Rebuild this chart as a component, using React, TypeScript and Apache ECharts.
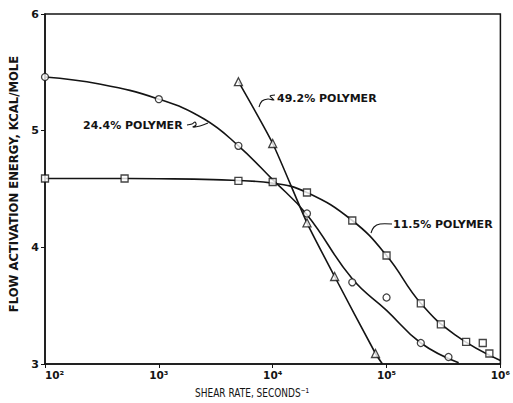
import React, { useEffect, useRef } from "react";
import * as echarts from "echarts";

// ---- data ----
const xTickPowers = [2, 3, 4, 5, 6];
const yTicks = [3, 4, 5, 6];

// 11.5% polymer (squares)
const sqX = [100, 500, 5000, 10000, 20000, 50000, 100000, 200000, 300000, 500000, 700000, 800000];
const sqY = [4.59, 4.59, 4.57, 4.56, 4.47, 4.23, 3.93, 3.52, 3.34, 3.19, 3.18, 3.09];
const sqCurveX = [100, 300, 1000, 3000, 10000, 20000, 50000, 100000, 200000, 400000, 1000000];
const sqCurveY = [4.59, 4.59, 4.588, 4.58, 4.55, 4.47, 4.23, 3.93, 3.52, 3.25, 3.03];

// 24.4% polymer (circles)
const ciX = [100, 1000, 5000, 20000, 50000, 100000, 200000, 350000];
const ciY = [5.46, 5.27, 4.87, 4.29, 3.7, 3.57, 3.18, 3.06];
const ciCurveX = [100, 300, 1000, 2500, 5000, 10000, 20000, 50000, 100000, 200000, 430000];
const ciCurveY = [5.46, 5.4, 5.27, 5.1, 4.87, 4.58, 4.28, 3.73, 3.46, 3.18, 3.01];

// 49.2% polymer (triangles)
const trX = [5000, 10000, 20000, 35000, 80000];
const trY = [5.42, 4.89, 4.21, 3.75, 3.09];
const trCurveX = [5000, 10000, 20000, 35000, 80000, 92000];
const trCurveY = [5.42, 4.89, 4.21, 3.75, 3.09, 3.0];

const seriesLabels = ["24.4% POLYMER", "49.2% POLYMER", "11.5% POLYMER"];
const xTitle = "SHEAR RATE, SECONDS⁻¹";
const yTitle = "FLOW ACTIVATION ENERGY, KCAL/MOLE";

const sup: Record<string, string> = { "0": "⁰", "1": "¹", "2": "²", "3": "³", "4": "⁴", "5": "⁵", "6": "⁶", "7": "⁷", "8": "⁸", "9": "⁹" };

const zip = (xs: number[], ys: number[]) => xs.map((x, i) => [x, ys[i]]);

const INK = "#141414";
const FONT = "'DejaVu Sans', sans-serif";

export default function App() {
  const ref = useRef<HTMLDivElement>(null);
  useEffect(() => {
    document.body.style.margin = "0";
    if (!ref.current) return;
    const chart = echarts.init(ref.current, null, { renderer: "svg" });
    const lineCommon = {
      type: "line" as const,
      showSymbol: false,
      smooth: 0.45,
      lineStyle: { color: INK, width: 1.6 },
      z: 2,
      silent: true,
    };
    const markCommon = {
      type: "scatter" as const,
      itemStyle: { color: "#fff", borderColor: INK, borderWidth: 1.3 },
      z: 5,
      silent: true,
    };
    chart.setOption({
      animation: false,
      backgroundColor: "#fff",
      grid: { left: 45, right: 8, top: 14, bottom: 39, show: true, borderColor: INK, borderWidth: 1.5 },
      xAxis: {
        type: "log",
        logBase: 10,
        min: 100,
        max: 1000000,
        axisLine: { show: true, lineStyle: { color: INK, width: 1.5 } },
        axisTick: { show: true, inside: false, length: 4, lineStyle: { color: INK } },
        minorTick: { show: false },
        splitLine: { show: false },
        axisLabel: {
          color: INK,
          fontFamily: FONT,
          fontSize: 10.5,
          fontWeight: "bold",
          margin: 5,
          alignMinLabel: "left",
          formatter: (v: number) => {
            const p = Math.round(Math.log10(v));
            if (!xTickPowers.includes(p)) return "";
            return "10" + String(p).split("").map((c) => sup[c]).join("");
          },
        },
      },
      yAxis: {
        type: "value",
        min: yTicks[0],
        max: yTicks[yTicks.length - 1],
        interval: 1,
        axisLine: { show: true, lineStyle: { color: INK, width: 1.5 } },
        axisTick: { show: true, inside: false, length: 4, lineStyle: { color: INK } },
        splitLine: { show: false },
        axisLabel: { color: INK, fontFamily: FONT, fontSize: 11, fontWeight: "bold", margin: 6 },
      },
      series: [
        { ...lineCommon, name: "c11", data: zip(sqCurveX, sqCurveY) },
        { ...lineCommon, name: "c24", data: zip(ciCurveX, ciCurveY) },
        { ...lineCommon, name: "c49", data: zip(trCurveX, trCurveY), smooth: 0.2 },
        { ...markCommon, name: "s11", symbol: "rect", symbolSize: 7, data: zip(sqX, sqY) },
        { ...markCommon, name: "s24", symbol: "circle", symbolSize: 7, data: zip(ciX, ciY) },
        { ...markCommon, name: "s49", symbol: "triangle", symbolSize: 8, data: zip(trX, trY) },
      ],
      graphic: [
        {
          type: "text",
          x: 14,
          y: 184,
          rotation: Math.PI / 2,
          style: { text: yTitle, fill: INK, font: `bold 11.6px ${FONT}`, align: "center", verticalAlign: "middle" },
        },
        {
          type: "text",
          x: 195,
          y: 392,
          scaleX: 0.75,
          style: { text: xTitle, fill: INK, font: `12px ${FONT}`, align: "left", verticalAlign: "middle" },
        },
        {
          type: "text",
          x: 83,
          y: 125,
          style: { text: seriesLabels[0], fill: INK, font: `bold 11px ${FONT}`, align: "left", verticalAlign: "middle" },
        },
        {
          type: "polyline",
          shape: { points: [[187, 125], [192, 124], [195, 122], [196, 125], [193, 127], [200, 126], [208, 123]], smooth: 0.4 },
          style: { stroke: INK, lineWidth: 1.1, fill: "none" },
        },
        {
          type: "text",
          x: 277,
          y: 98,
          style: { text: seriesLabels[1], fill: INK, font: `bold 11px ${FONT}`, align: "left", verticalAlign: "middle" },
        },
        {
          type: "polyline",
          shape: { points: [[259, 107], [262, 101], [268, 99], [274, 100], [270, 96], [275, 95]], smooth: 0.3 },
          style: { stroke: INK, lineWidth: 1.1, fill: "none" },
        },
        {
          type: "text",
          x: 393,
          y: 224,
          style: { text: seriesLabels[2], fill: INK, font: `bold 11px ${FONT}`, align: "left", verticalAlign: "middle" },
        },
        {
          type: "polyline",
          shape: { points: [[371, 233], [374, 227], [380, 224], [392, 224]], smooth: 0.3 },
          style: { stroke: INK, lineWidth: 1.1, fill: "none" },
        },
      ],
    });
    return () => chart.dispose();
  }, []);
  return <div ref={ref} style={{ width: 513, height: 403 }} />;
}
